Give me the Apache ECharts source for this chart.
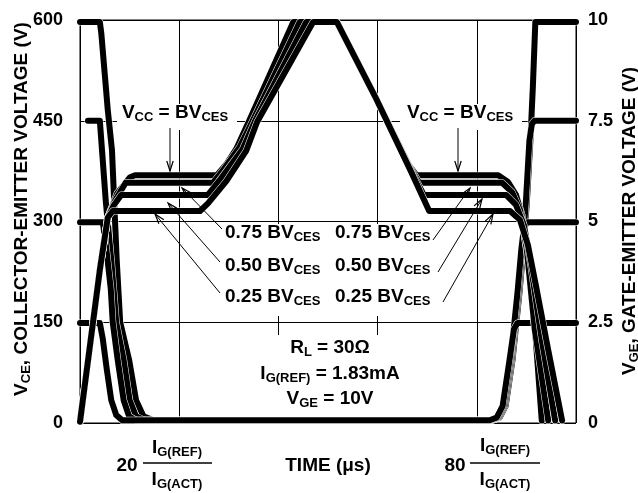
<!DOCTYPE html>
<html><head><meta charset="utf-8">
<script src="https://cdn.jsdelivr.net/npm/echarts@6/dist/echarts.min.js"></script>
<style>html,body{margin:0;padding:0;background:#fff}#c{width:638px;height:493px}</style>
</head><body><div id="c"></div>
<script>
// ---- data (time in µs-scale units 0..100, VCE in volts, VGE in volts) ----
const timeTicks = [0, 20, 40, 60, 80, 100];
const vceTicks = [0, 150, 300, 450, 600];
const vgeTicks = [0, 2.5, 5, 7.5, 10];

const vce100 = [[0,597],[4,597],[4.3,580],[5.04,515],[5.6,466],[6.45,406],[7.4,243],[8.1,150],[9.9,94],[11.3,34],[12.8,10],[14.8,4],[83.2,4],[84.6,8],[85.8,25],[87.2,94],[88.6,194],[89.4,260],[90.1,330],[90.8,420],[91.3,500],[91.8,597],[100,597]];
const vce75 = [[1.6,450],[4,450],[4.5,400],[5.2,330],[6.3,243],[7.3,150],[8.8,94],[10,34],[11.3,10],[13,4],[83.0,4],[84.4,8],[85.6,25],[87.0,94],[88.4,194],[89.2,260],[89.9,330],[90.6,420],[91.1,445],[91.6,450],[100,450]];
const vce50 = [[0,299],[4.6,299],[5.3,260],[6.2,200],[6.6,150],[7.6,94],[8.8,34],[9.9,10],[11.3,4],[82.8,4],[84.2,8],[85.4,25],[86.8,94],[88.2,194],[89.0,260],[89.5,290],[90.1,299],[100,299]];
const vce25 = [[0,149],[4,149],[4.6,125],[5.4,80],[6.3,34],[7.3,12],[8.5,4],[82.6,4],[84.0,8],[85.2,25],[86.6,94],[87.5,140],[88.2,149],[100,149]];

const vge100 = [[0,0.03],[4.0,3.8],[5.6,5.1],[7.5,5.7],[10.1,6.1],[11.1,6.15],[27.6,6.15],[29.5,6.42],[31.5,6.8],[34,7.47],[43,9.95],[51.8,9.95],[59.5,8.1],[66.3,6.4],[67.8,6.15],[84.3,6.15],[86.3,5.98],[87.9,5.66],[89.1,5.16],[90.3,4.04],[91.9,2.06],[93.1,0.06]];
const vge75 = [[0,0.03],[4.0,3.8],[5.6,5.1],[7,5.5],[9.2,5.96],[26.8,5.96],[29,6.3],[32.2,6.85],[34.7,7.47],[44.3,9.95],[51.8,9.95],[59.5,8.1],[66.5,6.35],[68.4,5.96],[85.1,5.96],[87.1,5.73],[88.7,5.29],[90.1,4.29],[91.7,2.31],[94.4,0.06]];
const vge50 = [[0,0.03],[4.0,3.8],[5.6,5.1],[6.8,5.4],[8.3,5.66],[25.8,5.66],[28,6.0],[32.8,6.8],[35.2,7.47],[45.6,9.95],[51.8,9.95],[59.5,8.1],[66.6,6.3],[69.3,5.66],[85.9,5.66],[87.9,5.41],[89.5,4.91],[90.9,3.92],[93.1,2.06],[95.8,0.06]];
const vge25 = [[0,0.03],[4.0,3.8],[5.6,5.1],[6.6,5.26],[24.2,5.26],[25.8,5.45],[29.5,6.0],[33.5,6.75],[35.7,7.47],[47,9.95],[51.8,9.95],[59.5,8.1],[66.7,6.25],[70.4,5.26],[86.7,5.26],[88.7,5.04],[90.3,4.42],[91.9,3.42],[94.4,1.81],[97.2,0.06]];

// ---- rendering ----
const F = '"Liberation Sans", Arial, Helvetica, sans-serif';
const chart = echarts.init(document.getElementById('c'), null, {renderer: 'canvas'});

const curves = [
  {d: vce100, ax: 0}, {d: vce75, ax: 0}, {d: vce50, ax: 0}, {d: vce25, ax: 0},
  {d: vge100, ax: 1}, {d: vge75, ax: 1}, {d: vge50, ax: 1}, {d: vge25, ax: 1}
];
const series = [];
curves.forEach(c => {
  series.push({type: 'line', yAxisIndex: c.ax, data: c.d, symbol: 'none', silent: true,
    lineStyle: {color: '#fff', width: 7, join: 'round', cap: 'round'}});
  series.push({type: 'line', yAxisIndex: c.ax, data: c.d, symbol: 'none', silent: true,
    lineStyle: {color: '#000', width: 6, join: 'round', cap: 'round'}});
});

const R = {
  m: {fontSize: 19, fontWeight: 'bold', fontFamily: F, fill: '#000'},
  s: {fontSize: 13, fontWeight: 'bold', fontFamily: F, fill: '#000', padding: [8, 0, 0, 0]}
};
function T(x, y, text, align, rot) {
  return {type: 'text', x: x, y: y, z: 10, rotation: rot || 0,
    style: {text: text, rich: R, align: align || 'center', verticalAlign: 'middle', lineHeight: 22,
      fill: '#000', fontSize: 19, fontWeight: 'bold', fontFamily: F}};
}
function W(x, y, w, h) {
  return {type: 'rect', z: 1, shape: {x: x, y: y, width: w, height: h}, style: {fill: '#fff'}};
}
function L(x1, y1, x2, y2, lw) {
  return {type: 'line', z: 10, shape: {x1: x1, y1: y1, x2: x2, y2: y2}, style: {stroke: '#000', lineWidth: lw || 1}};
}
function A(x1, y1, x2, y2) {
  const dx = x2 - x1, dy = y2 - y1, len = Math.hypot(dx, dy), ux = dx / len, uy = dy / len, h = 10, w = 3.2;
  return [L(x1, y1, x2, y2, 1),
    {type: 'polyline', z: 10, shape: {points: [[x2 - h * ux - w * uy, y2 - h * uy + w * ux], [x2, y2], [x2 - h * ux + w * uy, y2 - h * uy - w * ux]]},
      style: {stroke: '#000', lineWidth: 1.2, fill: null}}];
}

const gfx = [
  W(117, 104, 120, 26), W(400, 104, 122, 26), W(214, 224, 228, 92), W(250, 335, 160, 84),
  T(175, 113, '{m|V}{s|CC}{m| = BV}{s|CES}'),
  T(460, 113, '{m|V}{s|CC}{m| = BV}{s|CES}'),
  T(225, 233, '{m|0.75 BV}{s|CES}', 'left'), T(335, 233, '{m|0.75 BV}{s|CES}', 'left'),
  T(225, 266, '{m|0.50 BV}{s|CES}', 'left'), T(335, 266, '{m|0.50 BV}{s|CES}', 'left'),
  T(225, 297, '{m|0.25 BV}{s|CES}', 'left'), T(335, 297, '{m|0.25 BV}{s|CES}', 'left'),
  T(330, 348, '{m|R}{s|L}{m| = 30Ω}'),
  T(330, 374, '{m|I}{s|G(REF)}{m| = 1.83mA}'),
  T(330, 399, '{m|V}{s|GE}{m| = 10V}'),
  T(127, 466, '{m|20}'), T(177, 448, '{m|I}{s|G(REF)}'), L(143, 463, 212, 463, 1.3), T(177, 480, '{m|I}{s|G(ACT)}'),
  T(328, 466, '{m|TIME (μs)}'),
  T(455, 466, '{m|80}'), T(505, 446, '{m|I}{s|G(REF)}'), L(470, 463, 540, 463, 1.3), T(505, 480, '{m|I}{s|G(ACT)}'),
  T(22, 209, '{m|V}{s|CE}{m|, COLLECTOR-EMITTER VOLTAGE (V)}', 'center', Math.PI / 2),
  T(630, 221, '{m|V}{s|GE}{m|, GATE-EMITTER VOLTAGE (V)}', 'center', Math.PI / 2)
].concat(
  A(170, 128, 170, 171), A(458, 128, 458, 171),
  A(222, 229, 182, 188), A(220, 262, 168, 203), A(220, 293, 155, 214),
  A(433, 240, 470, 188), A(438, 272, 482, 199), A(443, 302, 493, 214)
);

const axisLbl = {color: '#000', fontSize: 18, fontWeight: 'bold', fontFamily: F};
chart.setOption({
  animation: false,
  backgroundColor: '#fff',
  grid: {left: 80, right: 62, top: 20, bottom: 70, show: true, borderColor: '#000', borderWidth: 1},
  xAxis: {type: 'value', min: timeTicks[0], max: timeTicks[timeTicks.length - 1], interval: timeTicks[1] - timeTicks[0],
    axisLine: {show: false}, axisTick: {show: false}, axisLabel: {show: false},
    splitLine: {show: true, lineStyle: {color: '#000', width: 1}}},
  yAxis: [
    {type: 'value', min: vceTicks[0], max: vceTicks[vceTicks.length - 1], interval: vceTicks[1] - vceTicks[0], position: 'left',
      axisLine: {show: false}, axisTick: {show: false},
      axisLabel: Object.assign({margin: 17}, axisLbl),
      splitLine: {show: true, lineStyle: {color: '#000', width: 1}}},
    {type: 'value', min: vgeTicks[0], max: vgeTicks[vgeTicks.length - 1], interval: vgeTicks[1] - vgeTicks[0], position: 'right',
      axisLine: {show: false}, axisTick: {show: false},
      axisLabel: Object.assign({margin: 12}, axisLbl),
      splitLine: {show: false}}
  ],
  series: series,
  graphic: {elements: gfx}
});
</script>
</body></html>
